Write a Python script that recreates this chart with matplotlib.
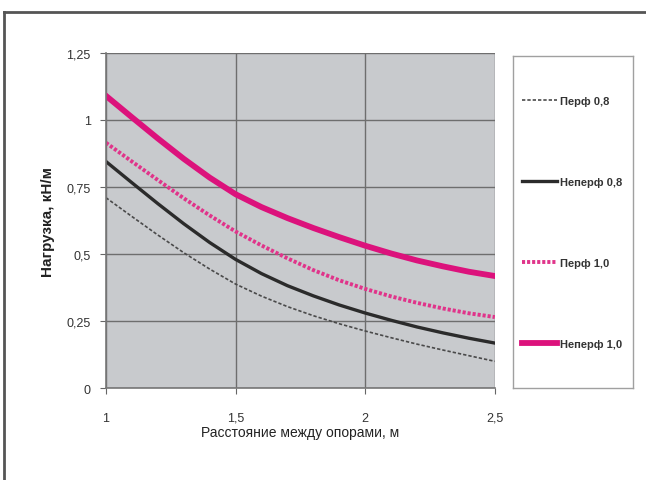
import matplotlib
matplotlib.use("Agg")
import matplotlib.pyplot as plt
from matplotlib.lines import Line2D
from matplotlib.ticker import FuncFormatter

plt.rcParams["font.family"] = ["Liberation Sans", "DejaVu Sans"]

# расстояние между опорами, м
span = [1.0, 1.1, 1.2, 1.3, 1.4, 1.5, 1.6, 1.7, 1.8, 1.9, 2.0, 2.1, 2.2, 2.3, 2.4, 2.5]

# нагрузка, кН/м
perf_08 = [0.71, 0.64, 0.571, 0.505, 0.444, 0.388, 0.343, 0.304, 0.270, 0.240, 0.213,
           0.188, 0.164, 0.142, 0.121, 0.10]
noperf_08 = [0.845, 0.766, 0.688, 0.613, 0.543, 0.480, 0.427, 0.382, 0.344, 0.310, 0.280,
             0.253, 0.228, 0.206, 0.186, 0.168]
perf_10 = [0.915, 0.845, 0.776, 0.708, 0.644, 0.584, 0.532, 0.484, 0.440, 0.402, 0.370,
           0.342, 0.318, 0.297, 0.279, 0.265]
noperf_10 = [1.09, 1.01, 0.931, 0.855, 0.785, 0.723, 0.675, 0.634, 0.597, 0.563, 0.531,
             0.502, 0.476, 0.454, 0.434, 0.418]

labels = ["Перф 0,8", "Неперф 0,8", "Перф 1,0", "Неперф 1,0"]
xticks = [1, 1.5, 2, 2.5]
yticks = [0, 0.25, 0.5, 0.75, 1, 1.25]

fig = plt.figure(figsize=(6.46, 4.81), dpi=100)
ax = fig.add_axes([0.164, 0.191, 0.602, 0.697])
ax.set_facecolor("#c8cacd")

ax.plot(span, perf_08, color="#4a4a4a", lw=1.2, ls=(0, (2, 1.2)), label=labels[0])
ax.plot(span, noperf_08, color="#2b2b2b", lw=2.4, label=labels[1])
ax.plot(span, perf_10, color="#e0348a", lw=2.8, ls=(0, (0.8, 0.5)), label=labels[2])
ax.plot(span, noperf_10, color="#dc127c", lw=4.2, label=labels[3])

ax.set_xlim(1, 2.5)
ax.set_ylim(0, 1.25)
ax.set_xticks(xticks)
ax.set_yticks(yticks)
fmt = FuncFormatter(lambda v, p: f"{v:g}".replace(".", ","))
ax.xaxis.set_major_formatter(fmt)
ax.yaxis.set_major_formatter(fmt)
ax.grid(True, color="#6e6e6e", lw=1.0)
ax.set_axisbelow(True)
for s in ["top", "right"]:
    ax.spines[s].set_visible(False)
for s in ["left", "bottom"]:
    ax.spines[s].set_color("#777777")
    ax.spines[s].set_linewidth(1.2)
ax.tick_params(axis="both", labelsize=9, colors="#666666", labelcolor="#333333",
               length=4, direction="out")
ax.tick_params(axis="x", pad=13)
ax.tick_params(axis="y", pad=7)
ax.set_xlabel("Расстояние между опорами, м", fontsize=10, color="#222222", labelpad=1)
ax.set_ylabel("Нагрузка, кН/м", fontsize=11, fontweight="bold", color="#222222", labelpad=8)

# легенда в отдельной рамке справа
ax_leg = fig.add_axes([0.794, 0.191, 0.186, 0.69])
ax_leg.set_xticks([])
ax_leg.set_yticks([])
for s in ax_leg.spines.values():
    s.set_color("#a0a0a0")
    s.set_linewidth(1.0)
handles, lbls = ax.get_legend_handles_labels()
leg = ax_leg.legend(handles, lbls, loc="center left", bbox_to_anchor=(0.0, 0.5),
                    borderaxespad=0, borderpad=0.8, frameon=False,
                    prop={"size": 8, "weight": "bold"},
                    handlelength=3.2, handletextpad=0.2, labelspacing=6.4)
for t in leg.get_texts():
    t.set_color("#333333")

# рамка области диаграммы
fig.add_artist(Line2D([0.006, 1.0], [0.973, 0.973], color="#555555", lw=2.0))
fig.add_artist(Line2D([0.006, 0.006], [0.0, 0.973], color="#555555", lw=2.0))

fig.savefig("out.png", dpi=100)
